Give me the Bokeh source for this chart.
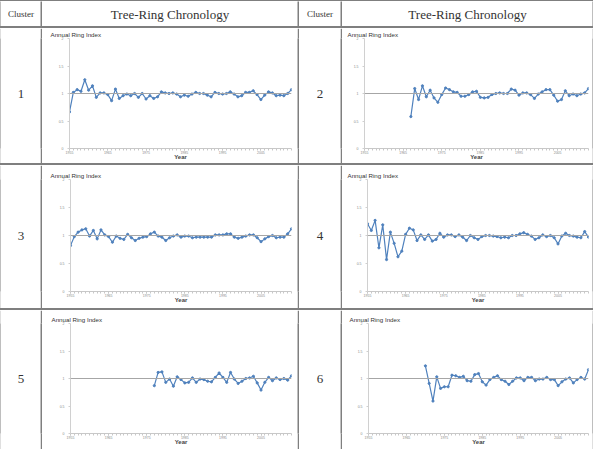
from bokeh.plotting import figure
from bokeh.layouts import column, row
from bokeh.models import Range1d, FixedTicker, Span, Div
from bokeh.core.properties import value
from bokeh.embed import file_html
from bokeh.resources import INLINE

# ---- data -------------------------------------------------------------
first_year_axis = 1955
last_year_axis = 2013
x_tick_years = [1955, 1965, 1975, 1985, 1995, 2005]
y_tick_values = [0, 0.5, 1, 1.5, 2]
y_tick_labels = ["0", "0.5", "1", "1.5", "2"]

cluster_ids = ["1", "2", "3", "4", "5", "6"]
cluster_first_years = [1955, 1967, 1955, 1955, 1977, 1970]

cluster1_index = [0.665, 1.02, 1.07, 1.04, 1.25, 1.06, 1.14, 0.93, 1.01, 1.01,
                  0.98, 0.87, 1.08, 0.91, 0.96, 0.99, 0.96, 1.0, 0.93, 1.0,
                  0.9, 0.96, 0.91, 0.94, 1.03, 1.01, 1.0, 1.01, 0.99, 0.94,
                  0.97, 0.95, 0.99, 1.02, 1.0, 1.0, 0.97, 0.94, 1.02, 1.0,
                  0.99, 1.0, 1.03, 0.99, 0.94, 0.96, 1.02, 1.02, 1.05, 0.98,
                  0.89, 0.97, 1.03, 1.01, 0.96, 0.97, 0.96, 1.0, 1.07]
cluster2_index = [0.58, 1.09, 0.89, 1.14, 0.94, 1.06, 0.92, 0.84, 0.98, 1.10,
                  1.07, 1.03, 1.02, 0.95, 0.95, 0.98, 1.03, 1.04, 0.93, 0.92,
                  0.93, 0.98, 1.0, 1.01, 1.0, 1.0, 1.08, 1.06, 0.97, 1.01,
                  1.01, 0.98, 0.91, 0.99, 1.03, 1.07, 1.07, 0.97, 0.86, 0.89,
                  1.05, 0.96, 0.99, 0.96, 0.99, 1.01, 1.09]
cluster3_index = [0.82, 0.98, 1.06, 1.10, 1.12, 0.99, 1.09, 0.94, 1.10, 1.01,
                  0.98, 0.88, 0.99, 0.95, 0.93, 1.02, 0.96, 0.91, 0.95, 0.97,
                  0.98, 1.03, 1.06, 0.99, 0.97, 0.91, 0.96, 0.99, 1.01, 0.97,
                  0.99, 0.99, 0.96, 0.97, 0.97, 0.97, 0.97, 0.97, 1.01, 1.01,
                  1.01, 1.03, 1.03, 0.97, 0.95, 0.97, 0.99, 1.01, 1.01, 0.96,
                  0.89, 0.94, 0.98, 1.0, 0.96, 0.97, 0.97, 1.03, 1.12]
cluster4_index = [1.21, 1.09, 1.27, 0.78, 1.19, 0.57, 1.06, 0.86, 0.62, 0.72,
                  1.02, 1.13, 1.10, 0.91, 1.01, 0.93, 1.01, 0.90, 0.93, 1.04,
                  0.97, 1.01, 1.01, 0.98, 1.01, 0.97, 0.91, 1.0, 0.96, 0.93,
                  0.98, 1.0, 1.0, 0.99, 0.98, 0.96, 0.97, 0.96, 1.0, 1.0,
                  1.03, 1.05, 1.02, 0.99, 0.93, 0.96, 1.01, 0.98, 1.0, 0.96,
                  0.85, 0.99, 1.04, 1.0, 0.99, 0.97, 0.96, 1.07, 0.97]
cluster5_index = [0.87, 1.11, 1.12, 0.93, 0.99, 0.86, 1.03, 0.98, 0.92, 0.93,
                  1.01, 0.93, 0.99, 0.98, 0.95, 0.94, 1.02, 1.10, 1.02, 0.93,
                  1.11, 0.99, 0.91, 0.95, 1.0, 1.01, 1.04, 0.92, 0.79, 0.93,
                  1.02, 0.96, 1.01, 0.98, 1.0, 0.97, 1.05]
cluster6_index = [1.23, 0.91, 0.59, 1.03, 0.82, 0.85, 0.85, 1.06, 1.05, 1.02,
                  1.04, 0.96, 0.95, 1.07, 1.09, 0.94, 0.88, 0.98, 1.02, 1.05,
                  0.98, 0.95, 0.89, 0.95, 1.01, 1.01, 0.96, 1.02, 1.02, 0.96,
                  0.99, 0.99, 1.02, 0.98, 0.98, 0.87, 0.94, 0.99, 1.01, 0.92,
                  0.98, 1.02, 0.99, 1.16]

cluster_series = [cluster1_index, cluster2_index, cluster3_index,
                  cluster4_index, cluster5_index, cluster6_index]

# ---- styling ----------------------------------------------------------
RULE_COLOR = "#7f7f7f"
SERIES_COLOR = "#4f81bd"
SERIF = "Liberation Serif"
SANS = "Liberation Sans"

# table geometry: column widths and row heights (pixels)
col_widths = [39, 255, 41, 250]
row_heights = [25, 135, 143, 139]

# per-chart frame borders (left, right, top, bottom) and title shift
chart_borders = [(27, 6, 10, 12), (22, 4, 9, 15),
                 (28, 6, 14, 16), (25, 4, 14, 17),
                 (28, 6, 11, 16), (26, 4, 13, 12)]
title_shift = [-19, -17, -20, -20, -19, -19]


def base_fig(w, h, **kw):
    return figure(width=w, height=h, toolbar_location=None,
                  output_backend="svg", min_border=0, **kw)


def vrule(w, h):
    return base_fig(w, h, x_axis_type=None, y_axis_type=None,
                    outline_line_color=None,
                    background_fill_color=RULE_COLOR,
                    border_fill_color=RULE_COLOR)


def hrule(w, h):
    return Div(text="", width=w, height=h, margin=(0, 0, 0, 0),
               styles={"background-color": RULE_COLOR})


def text_cell(w, h, txt, size):
    f = base_fig(w, h, x_axis_type=None, y_axis_type=None,
                 x_range=Range1d(0, 1), y_range=Range1d(0, 1),
                 outline_line_color=None)
    f.text(x=[0.5], y=[0.5], text=[txt], text_align="center",
           text_baseline="middle", text_font=value(SERIF),
           text_font_size=size, text_color="#333333")
    return f


def chart_cell(w, h, k):
    left, right, top, bottom = chart_borders[k]
    vals = cluster_series[k]
    start = cluster_first_years[k]
    years = list(range(start, start + len(vals)))

    p = figure(width=w, height=h, toolbar_location=None, output_backend="svg",
               x_range=Range1d(first_year_axis, last_year_axis),
               y_range=Range1d(0, 2),
               min_border_left=left, min_border_right=right,
               min_border_top=top, min_border_bottom=bottom,
               outline_line_color=None)
    p.grid.visible = False

    p.title.text = "Annual Ring Index"
    p.title.text_font = SANS
    p.title.text_font_size = "6.2px"
    p.title.text_font_style = "normal"
    p.title.text_color = "#333333"
    p.title.align = "left"
    p.title.offset = title_shift[k]
    p.title.standoff = 1

    xa = p.xaxis[0]
    xa.ticker = FixedTicker(ticks=x_tick_years,
                            minor_ticks=list(range(first_year_axis, last_year_axis + 1)))
    xa.major_label_overrides = {yr: str(yr) for yr in x_tick_years}
    xa.axis_line_color = "#c8c8c8"
    xa.major_tick_line_color = "#c8c8c8"
    xa.minor_tick_line_color = "#c8c8c8"
    xa.major_tick_out = 2
    xa.major_tick_in = 0
    xa.minor_tick_out = 2
    xa.minor_tick_in = 0
    xa.major_label_standoff = 0
    xa.major_label_text_font = SANS
    xa.major_label_text_font_size = "3.5px"
    xa.major_label_text_color = "#8a8a8a"
    xa.axis_label = "Year"
    xa.axis_label_text_font = SANS
    xa.axis_label_text_font_size = "6px"
    xa.axis_label_text_font_style = "bold"
    xa.axis_label_text_color = "#444444"
    xa.axis_label_standoff = -3

    ya = p.yaxis[0]
    ya.ticker = FixedTicker(ticks=y_tick_values)
    ya.major_label_overrides = dict(zip(y_tick_values, y_tick_labels))
    ya.axis_line_color = "#d0d0d0"
    ya.major_tick_line_color = "#d0d0d0"
    ya.major_tick_out = 2
    ya.major_tick_in = 0
    ya.minor_tick_line_color = None
    ya.major_label_standoff = 4
    ya.major_label_text_font = SANS
    ya.major_label_text_font_size = "3.5px"
    ya.major_label_text_color = "#8a8a8a"

    p.add_layout(Span(location=1, dimension="width",
                      line_color="#a6a6a6", line_width=1))

    p.line(years, vals, line_color=SERIES_COLOR, line_width=1.2)
    p.scatter(years, vals, size=2.2, color=SERIES_COLOR)
    return p


def body_row(r):
    h = row_heights[r + 1]
    a, b = 2 * r, 2 * r + 1
    return row(vrule(1, h),
               text_cell(col_widths[0], h, cluster_ids[a], "13px"),
               vrule(2, h),
               chart_cell(col_widths[1], h, a),
               vrule(2, h),
               text_cell(col_widths[2], h, cluster_ids[b], "13px"),
               vrule(2, h),
               chart_cell(col_widths[3], h, b),
               vrule(1, h))


hh = row_heights[0]
header = row(vrule(1, hh),
             text_cell(col_widths[0], hh, "Cluster", "9px"),
             vrule(2, hh),
             text_cell(col_widths[1], hh, "Tree-Ring Chronology", "13px"),
             vrule(2, hh),
             text_cell(col_widths[2], hh, "Cluster", "9px"),
             vrule(2, hh),
             text_cell(col_widths[3], hh, "Tree-Ring Chronology", "13px"),
             vrule(1, hh))

total_w = sum(col_widths) + 2 + 3 * 2
layout = column(hrule(total_w, 1), header,
                hrule(total_w, 2), body_row(0),
                hrule(total_w, 2), body_row(1),
                hrule(total_w, 2), body_row(2))

open("out.html", "w").write(file_html(layout, INLINE))
